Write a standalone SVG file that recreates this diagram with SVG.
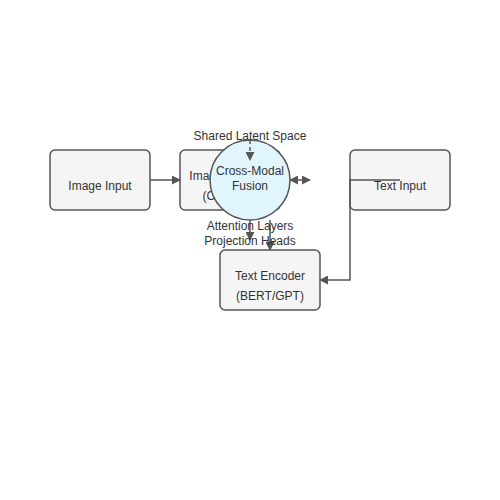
<svg xmlns="http://www.w3.org/2000/svg" width="500" height="500" viewBox="0 0 500 500">
<style>
.box{fill:#f5f5f5;stroke:#555;stroke-width:1.5}
.hub{fill:#e1f5fe;stroke:#555;stroke-width:1.5}
.t{font-family:"Liberation Sans",Arial,sans-serif;font-size:12px;fill:#333;text-anchor:middle}
.c{fill:none;stroke:#555;stroke-width:1.5}
</style>
<defs>
<marker id="ah" viewBox="0 0 10 10" refX="9" refY="5" markerWidth="6" markerHeight="6" orient="auto-start-reverse">
<path d="M0,0 L10,5 L0,10 z" fill="#555"/>
</marker>
</defs>
<rect width="500" height="500" fill="#fff"/>
<g id="image-input">
<rect class="box" x="50" y="150" width="100" height="60" rx="5"/>
<text class="t" x="100" y="190">Image Input</text>
</g>
<g id="image-encoder">
<rect class="box" x="180" y="150" width="100" height="60" rx="5"/>
<text class="t" x="230" y="180">Image Encoder</text>
<text class="t" x="230" y="200">(CNN/ViT)</text>
</g>
<g id="text-input">
<rect class="box" x="350" y="150" width="100" height="60" rx="5"/>
<text class="t" x="400" y="190">Text Input</text>
</g>
<g id="text-encoder">
<rect class="box" x="220" y="250" width="100" height="60" rx="5"/>
<text class="t" x="270" y="280">Text Encoder</text>
<text class="t" x="270" y="300">(BERT/GPT)</text>
</g>
<g id="fusion">
<circle class="hub" cx="250" cy="180" r="40"/>
<text class="t" x="250" y="175">Cross-Modal</text>
<text class="t" x="250" y="190">Fusion</text>
</g>
<g id="connectors">
<path class="c" d="M150,180 L180,180" marker-end="url(#ah)"/>
<path class="c" d="M400,180 L350,180 L350,280 L320,280" marker-end="url(#ah)"/>
<path class="c" d="M290,180 L310,180" marker-start="url(#ah)" marker-end="url(#ah)"/>
<path class="c" d="M250,140 L250,160" stroke-dasharray="4,3" marker-end="url(#ah)"/>
<path class="c" d="M250,220 L250,240" marker-end="url(#ah)"/>
<path class="c" d="M270,220 L270,250" marker-end="url(#ah)"/>
<text class="t" x="250" y="140">Shared Latent Space</text>
<text class="t" x="250" y="230">Attention Layers</text>
<text class="t" x="250" y="245">Projection Heads</text>
</g>
</svg>
